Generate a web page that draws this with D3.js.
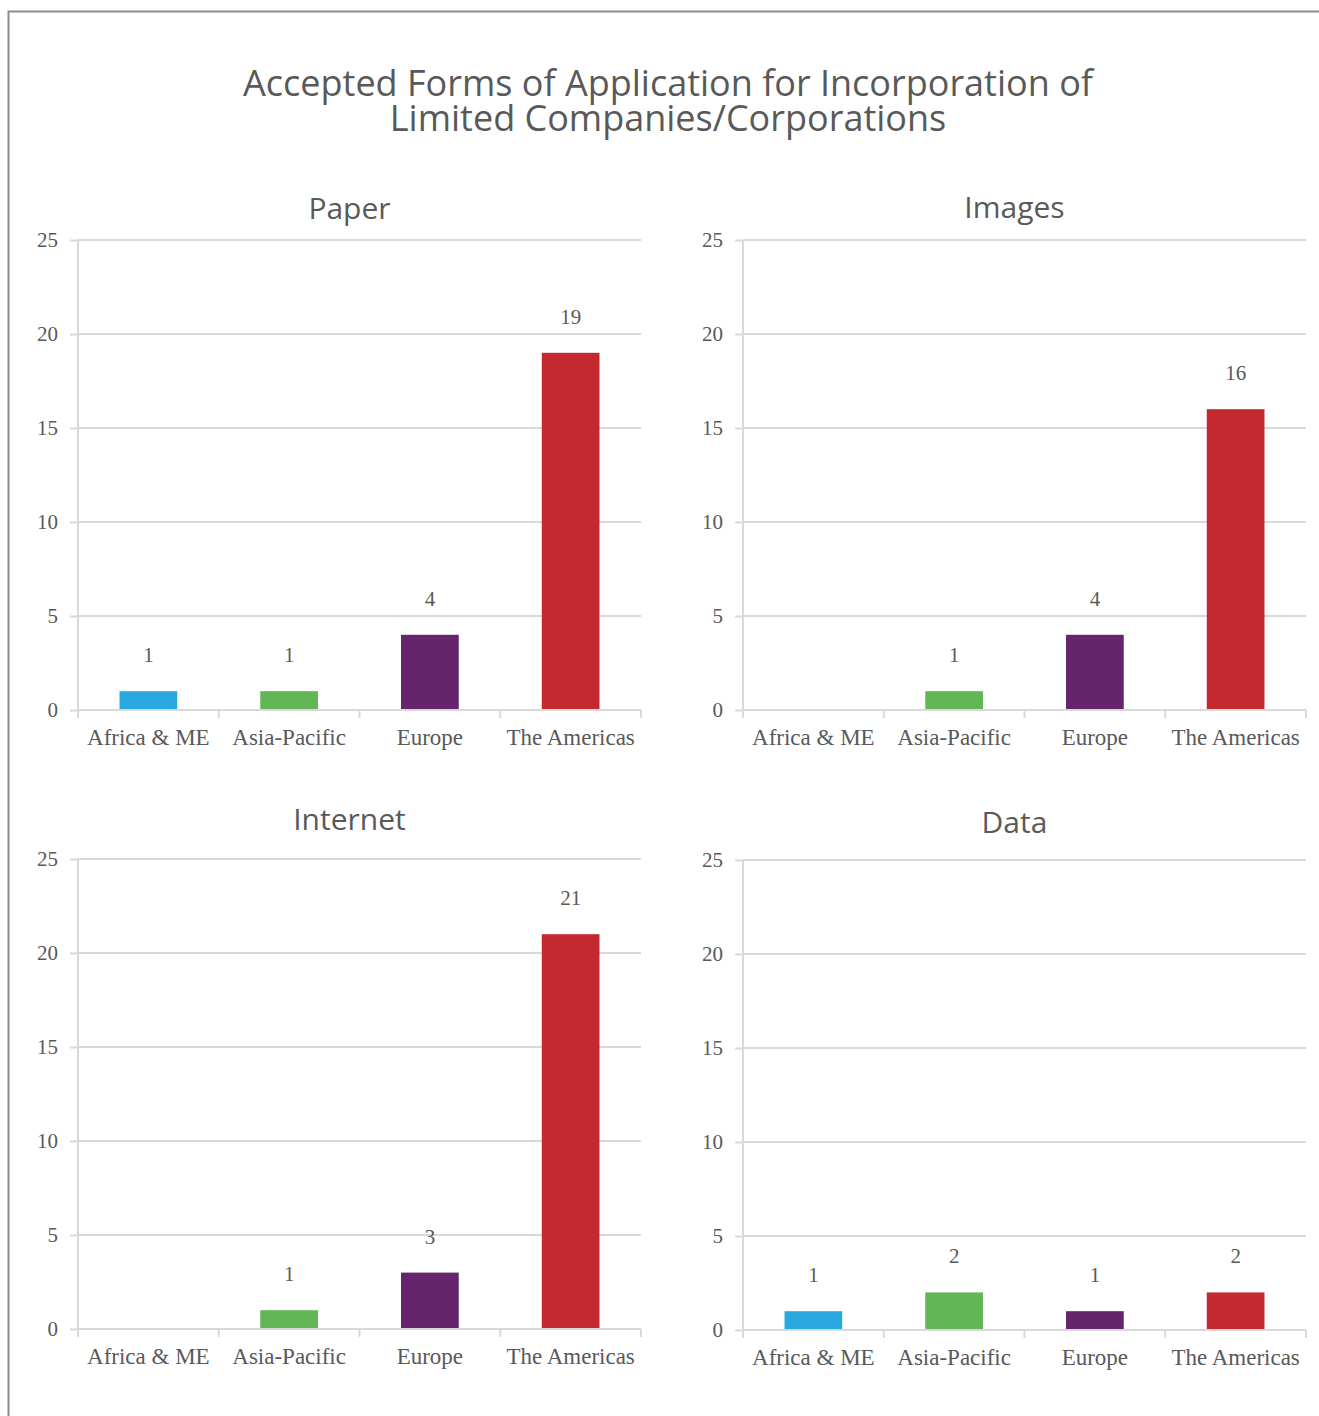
<!DOCTYPE html>
<html>
<head>
    <meta charset="utf-8">
    <script src="https://d3js.org/d3.v7.min.js"></script>
    <style>
        body { margin: 0; background: #fff; }
    </style>
</head>
<body>
<script>

    var regions = ['Africa & ME', 'Asia-Pacific', 'Europe', 'The Americas'];
    var colors = ['#29a8e0', '#62b655', '#65246b', '#c4292f'];
    var yTicks = [0, 5, 10, 15, 20, 25];

    var paper = [1, 1, 4, 19];
    var images = [null, 1, 4, 16];
    var internet = [null, 1, 3, 21];
    var dataForm = [1, 2, 1, 2];

    var panels = [
        {name: 'Paper', values: paper, x: 78, y0: 710, titleY: 219},
        {name: 'Images', values: images, x: 743, y0: 710, titleY: 218},
        {name: 'Internet', values: internet, x: 78, y0: 1329, titleY: 830},
        {name: 'Data', values: dataForm, x: 743, y0: 1330, titleY: 833}
    ];

    var width = 1319;
    var height = 1416;
    var plotW = 563;
    var plotH = 470;
    var grey = '#595959';
    var gridColor = '#d9d9d9';

    var svg = d3.select('body').append('svg')
        .attr('width', width)
        .attr('height', height);

    // outer frame, cut off on the right and bottom
    svg.append('rect')
        .attr('x', 8.5).attr('y', 11.5)
        .attr('width', 1400).attr('height', 1500)
        .attr('fill', 'none')
        .attr('stroke', '#8c8c8c')
        .attr('stroke-width', 2);

    svg.append('text')
        .attr('x', 668).attr('y', 96)
        .attr('text-anchor', 'middle')
        .attr('font-family', 'Open Sans, sans-serif')
        .attr('font-size', 36)
        .attr('fill', grey)
        .text('Accepted Forms of Application for Incorporation of');
    svg.append('text')
        .attr('x', 668).attr('y', 131)
        .attr('text-anchor', 'middle')
        .attr('font-family', 'Open Sans, sans-serif')
        .attr('font-size', 36)
        .attr('fill', grey)
        .text('Limited Companies/Corporations');

    var xScale = d3.scaleBand()
        .domain(regions)
        .range([0, plotW])
        .paddingInner(0.59)
        .paddingOuter(0.295);

    var yScale = d3.scaleLinear()
        .domain([0, 25])
        .range([plotH, 0]);

    panels.forEach(function(p) {
        var g = svg.append('g')
            .attr('transform', 'translate(' + p.x + ',' + (p.y0 - plotH) + ')');

        svg.append('text')
            .attr('x', p.x + plotW / 2 - 10)
            .attr('y', p.titleY)
            .attr('text-anchor', 'middle')
            .attr('font-family', 'Open Sans, sans-serif')
            .attr('font-size', 30)
            .attr('fill', grey)
            .text(p.name);

        // gridlines
        g.selectAll('.grid').data(yTicks.slice(1))
            .enter().append('line')
            .attr('x1', 0).attr('x2', plotW)
            .attr('y1', function(d) { return yScale(d); })
            .attr('y2', function(d) { return yScale(d); })
            .attr('stroke', gridColor)
            .attr('stroke-width', 2);

        var yAxis = d3.axisLeft(yScale)
            .tickValues(yTicks)
            .tickSize(8)
            .tickPadding(12);
        var gY = g.append('g').call(yAxis);
        gY.select('.domain').attr('stroke', gridColor).attr('stroke-width', 2)
            .attr('d', 'M0,0V' + plotH);
        gY.selectAll('.tick line').attr('stroke', gridColor).attr('stroke-width', 2);
        gY.selectAll('.tick text')
            .attr('font-family', 'Liberation Serif, serif')
            .attr('font-size', 21)
            .attr('fill', grey);

        var points = p.values.map(function(v, i) {
            return {region: regions[i], value: v, color: colors[i]};
        }).filter(function(d) { return d.value != null; });

        // bars
        g.selectAll('.bar').data(points)
            .enter().append('rect')
            .attr('x', function(d) { return xScale(d.region); })
            .attr('width', xScale.bandwidth())
            .attr('y', function(d) { return yScale(d.value); })
            .attr('height', function(d) { return plotH - yScale(d.value); })
            .attr('fill', function(d) { return d.color; });

        // value labels
        g.selectAll('.label').data(points)
            .enter().append('text')
            .attr('x', function(d) { return xScale(d.region) + xScale.bandwidth() / 2; })
            .attr('y', function(d) { return yScale(d.value) - 29; })
            .attr('text-anchor', 'middle')
            .attr('font-family', 'Liberation Serif, serif')
            .attr('font-size', 21)
            .attr('fill', grey)
            .text(function(d) { return d.value; });

        // x axis at zero
        var xAxisG = g.append('g').attr('transform', 'translate(0,' + plotH + ')');
        xAxisG.append('line')
            .attr('x1', 0).attr('x2', plotW)
            .attr('stroke', gridColor).attr('stroke-width', 2);
        xAxisG.selectAll('.xt').data(d3.range(regions.length + 1))
            .enter().append('line')
            .attr('x1', function(d) { return d * plotW / regions.length; })
            .attr('x2', function(d) { return d * plotW / regions.length; })
            .attr('y1', 0).attr('y2', 8)
            .attr('stroke', gridColor).attr('stroke-width', 2);
        xAxisG.selectAll('.xl').data(regions)
            .enter().append('text')
            .attr('x', function(d) { return xScale(d) + xScale.bandwidth() / 2; })
            .attr('y', 35)
            .attr('text-anchor', 'middle')
            .attr('font-family', 'Liberation Serif, serif')
            .attr('font-size', 23)
            .attr('fill', grey)
            .text(function(d) { return d; });
    });

</script>
</body>
</html>
